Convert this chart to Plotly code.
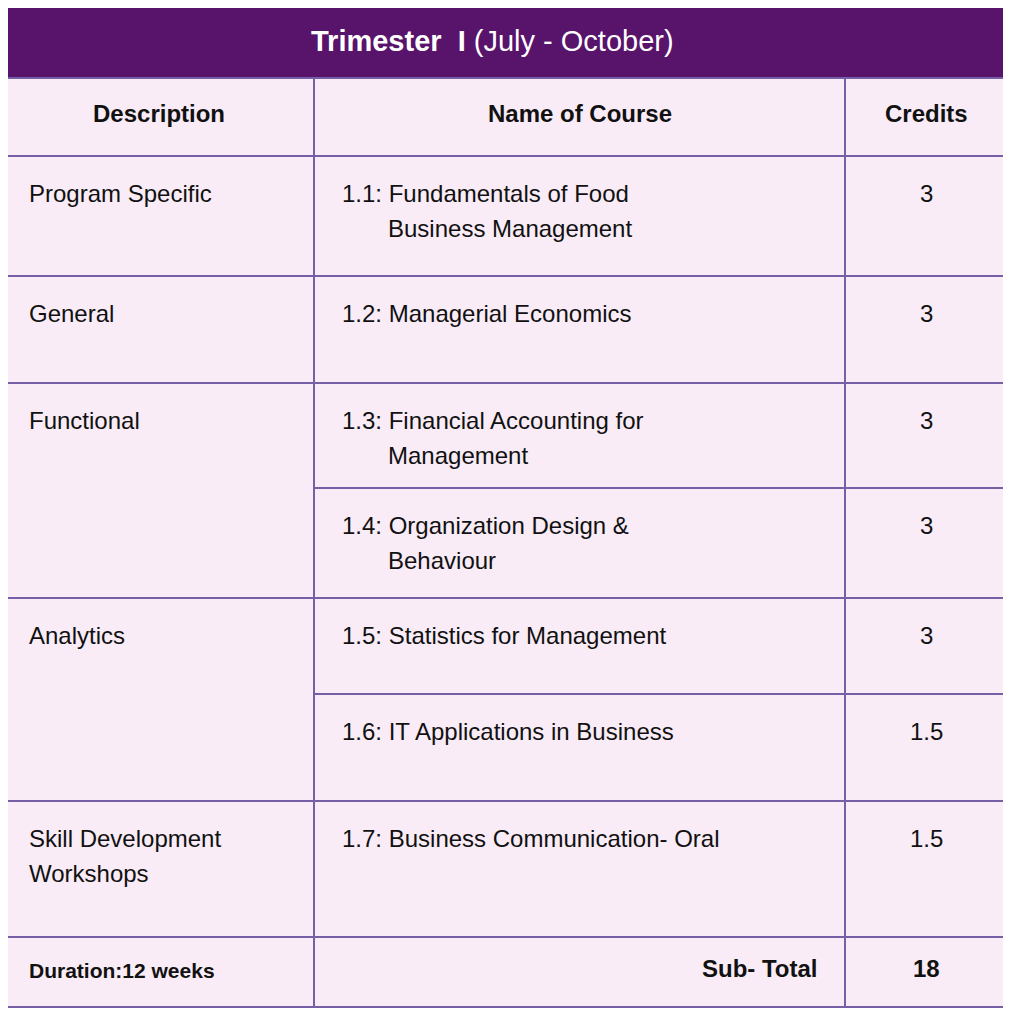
import plotly.graph_objects as go

# table content
descriptions = ["Program Specific", "General", "Functional", "Analytics", "Skill Development<br>Workshops"]
desc_spans = [1, 1, 2, 2, 1]
course_codes = ["1.1:", "1.2:", "1.3:", "1.4:", "1.5:", "1.6:", "1.7:"]
course_lines = [["Fundamentals of Food", "Business Management"],
                ["Managerial Economics"],
                ["Financial Accounting for", "Management"],
                ["Organization Design &", "Behaviour"],
                ["Statistics for Management"],
                ["IT Applications in Business"],
                ["Business Communication- Oral"]]
credits = ["3", "3", "3", "3", "3", "1.5", "1.5"]
headers = ["Description", "Name of Course", "Credits"]
footer = ["Duration:12 weeks", "Sub- Total", "18"]

# layout (page pixels)
col_x = [4, 314, 845, 1007]
row_y = [156, 276, 383, 488, 598, 694, 801, 937]
top, title_bot, head_bot, bottom = 4, 78, 156, 1007
OFF = 8  # page body margin

PURPLE = "#58136b"
FILL = "#f9ecf7"
LINE = "#7560a8"
FONT = "Liberation Sans Narrow, Arial Narrow, Liberation Sans, sans-serif"
FS = 24

fig = go.Figure()
shapes = []
ann = []

def rect(x0, y0, x1, y1, fill):
    shapes.append(dict(type="rect", x0=x0, y0=y0, x1=x1, y1=y1, fillcolor=fill,
                       line=dict(color=LINE, width=2), layer="below"))

def text(x, y, s, anchor="left", bold=False, color="#111", size=FS):
    if bold:
        s = "<b>" + s + "</b>"
    ann.append(dict(x=x, y=y, text=s, xanchor=anchor, yanchor="middle", showarrow=False,
                    font=dict(family=FONT, size=size, color=color), align="left"))

# title
rect(col_x[0], top, col_x[3], title_bot, PURPLE)
text(492, 41, "<b>Trimester  I</b> (July - October)", anchor="center", color="white", size=29)

# header
for i, h in enumerate(headers):
    rect(col_x[i], title_bot, col_x[i + 1], head_bot, FILL)
    text((col_x[i] + col_x[i + 1]) / 2, 113, h, anchor="center", bold=True)

# description cells with spans
r = 0
for d, span in zip(descriptions, desc_spans):
    y0, y1 = row_y[r], row_y[r + span]
    rect(col_x[0], y0, col_x[1], y1, FILL)
    for k, ln in enumerate(d.split("<br>")):
        text(27, y0 + 37 + 35 * k, ln)
    r += span

# course + credit cells
for i in range(len(course_codes)):
    y0, y1 = row_y[i], row_y[i + 1]
    rect(col_x[1], y0, col_x[2], y1, FILL)
    rect(col_x[2], y0, col_x[3], y1, FILL)
    text(340, y0 + 37, course_codes[i] + " " + course_lines[i][0])
    for k, ln in enumerate(course_lines[i][1:]):
        text(386, y0 + 72 + 35 * k, ln)
    text(926, y0 + 37, credits[i], anchor="center")

# footer
y0 = row_y[-1]
for i in range(3):
    rect(col_x[i], y0, col_x[i + 1], bottom, FILL)
text(27, 970, footer[0], bold=True, size=21)
text(820, 968, footer[1], anchor="right", bold=True)
text(926, 968, footer[2], anchor="center", bold=True)

fig.update_layout(shapes=shapes, annotations=ann, width=1011, height=1011,
                  margin=dict(l=0, r=0, t=0, b=0), paper_bgcolor="white", plot_bgcolor="white",
                  xaxis=dict(range=[OFF, 1011 + OFF], visible=False),
                  yaxis=dict(range=[1011 + OFF, OFF], visible=False), showlegend=False)
fig.write_html("out.html")
